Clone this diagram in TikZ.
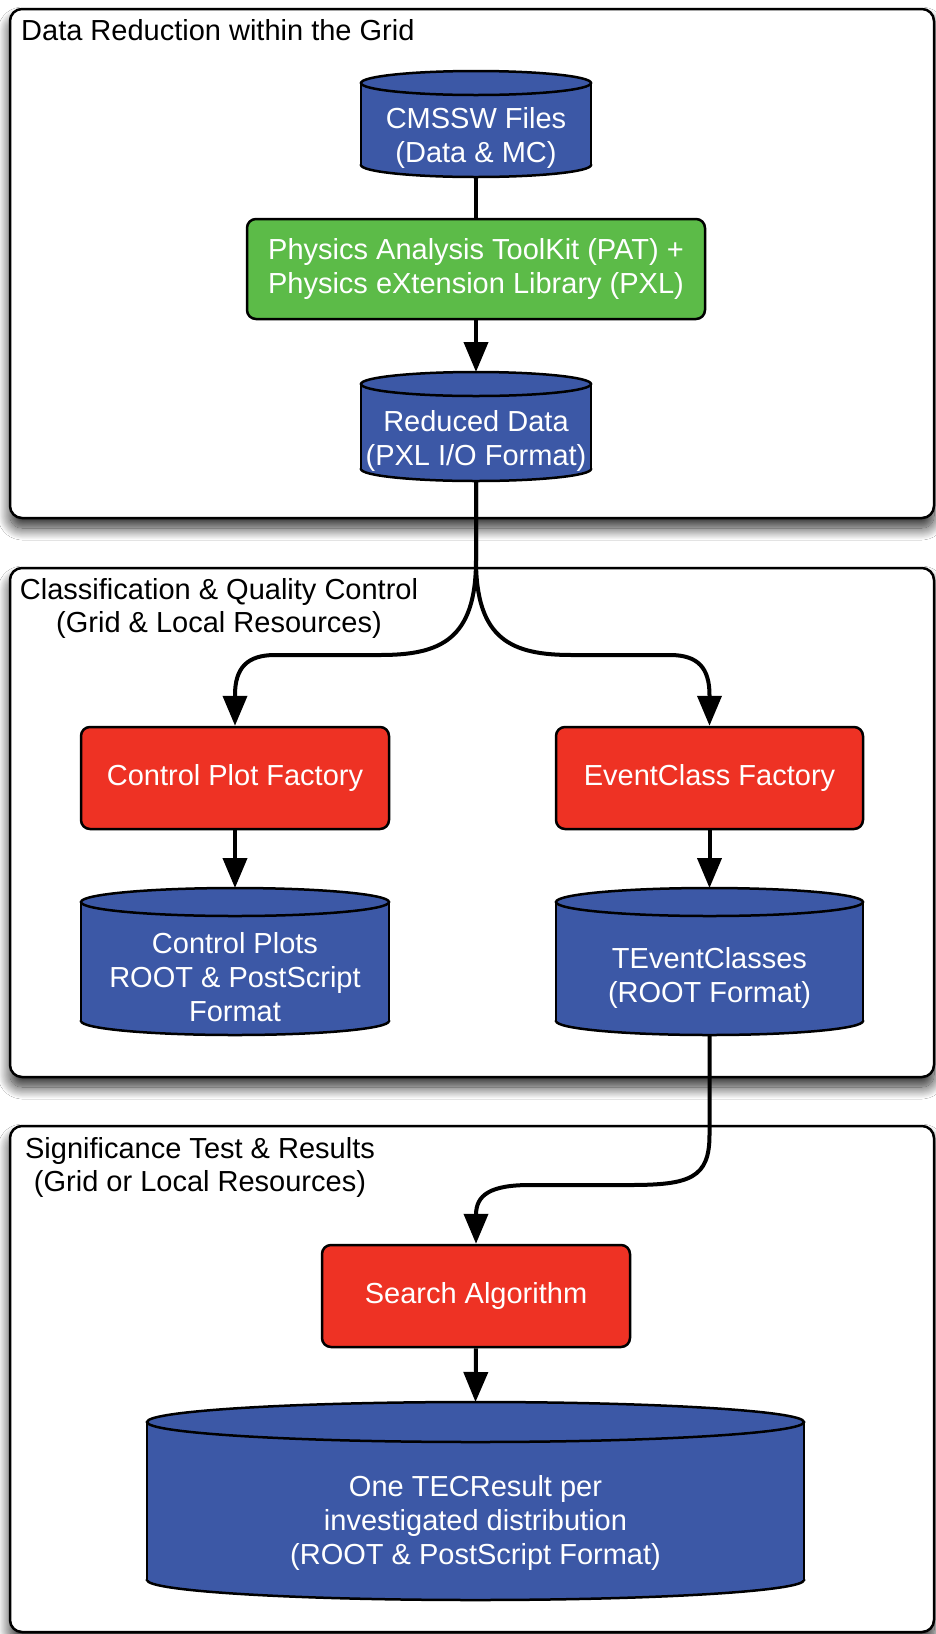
\documentclass[tikz,border=0pt]{standalone}
\usepackage{fontspec}
\setmainfont{Liberation Sans}
\usetikzlibrary{arrows.meta,shadows.blur,calc}
\definecolor{dbblue}{RGB}{60,88,166}
\definecolor{procred}{RGB}{238,50,36}
\definecolor{patgreen}{RGB}{92,187,72}
\tikzset{
  group/.style={draw=black, line width=2.5pt, rounded corners=12pt, fill=white, inner sep=0pt,
    blur shadow={shadow xshift=0pt, shadow yshift=-10pt, shadow blur radius=12pt, shadow opacity=85, shadow blur steps=20}},
  grouptitle/.style={font=\fontsize{29}{33}\selectfont, align=center, inner sep=0pt, text=black, yshift=-2pt},
  proc/.style={draw=black, line width=2.5pt, rounded corners=9pt, fill=procred, text=white,
    font=\fontsize{29}{34}\selectfont, align=center, inner sep=0pt},
  patbox/.style={proc, fill=patgreen},
  cylanchor/.style={inner sep=0pt, outer sep=0pt},
  cylfill/.style={fill=dbblue, draw=black, line width=2.5pt},
  cylline/.style={draw=black, line width=2.5pt},
  cyltext/.style={text=white, font=\fontsize{29}{34}\selectfont, align=center, inner sep=0pt, yshift=-2pt},
  conn/.style={draw=black, line width=4pt},
  arr/.style={conn, -{Triangle[length=30pt,width=24pt]}},
}
% name, cx, top, bottom, halfwidth, ry, text
\newcommand{\dbcyl}[7]{%
  \pgfmathsetmacro\cyT{-(#3)-(#6)}%
  \pgfmathsetmacro\cyB{-(#4)+(#6)}%
  \pgfmathsetmacro\cyL{#2-#5}%
  \pgfmathsetmacro\cyR{#2+#5}%
  \pgfmathsetmacro\cyM{-((#3)+2*(#6)+(#4))/2}%
  \pgfmathsetmacro\cyW{2*#5}%
  \pgfmathsetmacro\cyH{#4-#3}%
  \pgfmathsetmacro\cyC{-(#3+#4)/2}%
  \node[cylanchor, minimum width=\cyW pt, minimum height=\cyH pt] (#1) at (#2,\cyC) {};
  \filldraw[cylfill] (#2,\cyB) ellipse[x radius=#5pt, y radius=#6pt];
  \fill[dbblue] (\cyL,\cyT) rectangle (\cyR,\cyB);
  \draw[cylline] (\cyL,\cyT) -- (\cyL,\cyB) (\cyR,\cyT) -- (\cyR,\cyB);
  \filldraw[cylfill] (#2,\cyT) ellipse[x radius=#5pt, y radius=#6pt];
  \node[cyltext] (#1-t) at (#2,\cyM) {#7};
}
\begin{document}
\begin{tikzpicture}[x=1pt,y=1pt]
\useasboundingbox (0,0) rectangle (936,-1634);
\fill[white] (0,0) rectangle (936,-1634);

% groups
\node[group, minimum width=924pt, minimum height=509pt] (g1) at (472,-263.5) {};
\node[group, minimum width=924pt, minimum height=509pt] (g2) at (472,-822.5) {};
\node[group, minimum width=924pt, minimum height=506pt] (g3) at (472,-1379) {};

\node[grouptitle, anchor=west] (t1) at (21,-28) {Data Reduction within the Grid};
\node[grouptitle] (t2) at (219,-606.5) {Classification \& Quality Control\\(Grid \& Local Resources)};
\node[grouptitle] (t3) at (200,-1165.5) {Significance Test \& Results\\(Grid or Local Resources)};

% nodes
\dbcyl{cmssw}{476}{71}{177}{115}{12}{CMSSW Files\\(Data \& MC)}
\node[patbox, minimum width=458pt, minimum height=100pt] (pat) at (476,-269)
  {Physics Analysis ToolKit (PAT) +\\Physics eXtension Library (PXL)};
\dbcyl{reduced}{476}{372}{481}{115}{12}{Reduced Data\\(PXL I/O Format)}

\node[proc, minimum width=308pt, minimum height=102pt] (cpf) at (235,-778) {Control Plot Factory};
\node[proc, minimum width=307pt, minimum height=102pt] (ecf) at (709.5,-778) {EventClass Factory};
\dbcyl{cplots}{235}{888}{1035}{154}{14}{Control Plots\\ROOT \& PostScript\\Format}
\dbcyl{tec}{709.5}{888}{1035}{153.5}{14}{TEventClasses\\(ROOT Format)}

\node[proc, minimum width=308pt, minimum height=102pt] (search) at (476,-1296) {Search Algorithm};
\dbcyl{result}{475.5}{1402}{1600}{328.5}{20}{One TECResult per\\investigated distribution\\(ROOT \& PostScript Format)}

% connectors
\draw[conn] (cmssw.south) -- (pat.north);
\draw[arr] (pat.south) -- (reduced.north);

\coordinate (splitL) at (476,-560);
\draw[arr] (reduced.south) -- (splitL) .. controls (476,-640) and (440,-655) .. (380,-655)
  -- (275,-655) .. controls (247,-655) and (235,-668) .. (235,-695) -- (cpf.north);
\draw[arr] (reduced.south) -- (splitL) .. controls (476,-640) and (512,-655) .. (572,-655)
  -- (670,-655) .. controls (698,-655) and (709.5,-668) .. (709.5,-695) -- (ecf.north);

\draw[arr] (cplots.north |- cpf.south) -- (cplots.north);
\draw[arr] (ecf.south) -- (tec.north);

\draw[arr] (tec.south) -- (709.5,-1135) .. controls (709.5,-1178) and (690,-1185) .. (630,-1185)
  -- (530,-1185) .. controls (490,-1185) and (476,-1195) .. (476,-1215) -- (search.north);

\draw[arr] (search.south) -- (result.north);
\end{tikzpicture}
\end{document}
